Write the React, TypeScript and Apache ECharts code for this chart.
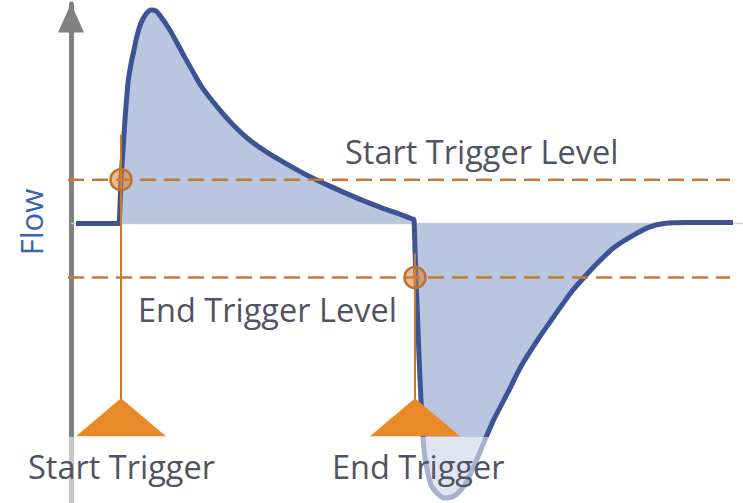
import React, { useEffect, useRef } from "react";
import * as echarts from "echarts";

// time (s) and flow values of the waveform
const flowTime = [0.05, 0.47, 0.48, 0.49, 0.5, 0.52, 0.54, 0.57, 0.6, 0.63, 0.66, 0.7, 0.75, 0.8, 0.85, 0.9, 0.97, 1.05, 1.13, 1.22, 1.3, 1.47, 1.62, 1.77, 1.95, 2.15, 2.35, 2.6, 2.85, 3.1, 3.3, 3.42, 3.43, 3.44, 3.45, 3.47, 3.49, 3.51, 3.53, 3.56, 3.6, 3.65, 3.73, 3.83, 3.93, 4.03, 4.13, 4.23, 4.37, 4.5, 4.67, 4.83, 5.0, 5.13, 5.27, 5.43, 5.6, 5.77, 5.93, 6.17, 6.5, 6.62];
const flowValue = [0, 0, 0, 9.5, 22, 37, 52, 70.5, 80, 87, 94, 100.5, 105, 107, 106.5, 103.5, 98.5, 91.5, 84, 76, 69, 58, 49.5, 42.5, 36, 30, 24.5, 18.5, 13, 8, 4.5, 2.2, 2, -13, -27, -53, -78, -98, -113.5, -123, -131, -134.5, -137.5, -136.5, -131.5, -121.5, -109.5, -98, -84.5, -71.5, -58, -46.5, -34.5, -27, -19.5, -12, -6.5, -2, 0, 0.5, 0.5, 0.5];

const startTriggerLevel = 22;
const endTriggerLevel = -27;
const startTriggerTime = 0.5;
const endTriggerTime = 3.44;
const levelLineSpan = [-0.03, 6.59];
const baselineSpan = [0, 6.72];
const triggerLineTop = [44.5, -15];
const triggerLineBottom = -88;
const markerLevel = -97;

const labels = {
  startLevel: "Start Trigger Level",
  endLevel: "End Trigger Level",
  startTrigger: "Start Trigger",
  endTrigger: "End Trigger",
  yName: "Flow",
};

const ORANGE = "#C8782F";
const TRI = "#E8892A";
const TXT = "#51535F";

export default function App() {
  const ref = useRef<HTMLDivElement>(null);
  useEffect(() => {
    if (!ref.current) return;
    const chart = echarts.init(ref.current, undefined, { renderer: "svg" });
    const curve = flowTime.map((t, i) => [t, flowValue[i]]);
    const font = "'Open Sans', sans-serif";
    chart.setOption({
      animation: false,
      grid: { left: 0, width: 743, top: 4, height: 500 },
      xAxis: {
        type: "value",
        min: -0.71,
        max: 6.72,
        axisLine: { show: false },
        axisTick: { show: false },
        axisLabel: { show: false },
        splitLine: { show: false },
      },
      yAxis: {
        type: "value",
        min: -140,
        max: 110,
        axisLine: {
          show: true,
          onZero: true,
          symbol: ["none", "triangle"],
          symbolSize: [26, 29],
          symbolOffset: [0, -14],
          lineStyle: { color: "#808080", width: 5 },
        },
        axisTick: { show: false },
        axisLabel: { show: false },
        splitLine: { show: false },
      },
      series: [
        {
          type: "line",
          data: baselineSpan.map((t) => [t, 0]),
          symbol: "none",
          lineStyle: { color: "#cfcfcf", width: 1.5 },
          z: 1,
        },
        {
          type: "line",
          data: curve,
          symbol: "none",
          smooth: 0.25,
          lineStyle: { color: "#3D5494", width: 5, join: "round" },
          areaStyle: { color: "#BAC5E0", opacity: 1 },
          z: 2,
        },
        {
          type: "line",
          data: levelLineSpan.map((t) => [t, startTriggerLevel]),
          symbol: "none",
          lineStyle: { color: ORANGE, width: 2.5, type: [16, 8] },
          z: 3,
        },
        {
          type: "line",
          data: levelLineSpan.map((t) => [t, endTriggerLevel]),
          symbol: "none",
          lineStyle: { color: ORANGE, width: 2.5, type: [16, 8] },
          z: 3,
        },
        {
          type: "line",
          data: [
            [startTriggerTime, triggerLineTop[0]],
            [startTriggerTime, triggerLineBottom],
          ],
          symbol: "none",
          lineStyle: { color: ORANGE, width: 2 },
          z: 4,
        },
        {
          type: "line",
          data: [
            [endTriggerTime, triggerLineTop[1]],
            [endTriggerTime, triggerLineBottom],
          ],
          symbol: "none",
          lineStyle: { color: ORANGE, width: 2 },
          z: 4,
        },
        {
          type: "scatter",
          data: [
            [startTriggerTime, startTriggerLevel],
            [endTriggerTime, endTriggerLevel],
          ],
          symbol: "circle",
          symbolSize: 21,
          itemStyle: { color: "rgba(214,130,50,0.55)", borderColor: "#C0702A", borderWidth: 2.5, opacity: 1 },
          z: 5,
        },
        {
          type: "scatter",
          data: [
            [startTriggerTime, markerLevel],
            [endTriggerTime, markerLevel],
          ],
          symbol: "triangle",
          symbolSize: [90, 38],
          itemStyle: { color: TRI, opacity: 1 },
          z: 6,
        },
      ],
      graphic: [
        {
          type: "rect",
          shape: { x: 0, y: 437, width: 743, height: 70 },
          style: { fill: "rgba(255,255,255,0.55)" },
          z: 100,
        },
        {
          type: "text",
          x: 345,
          y: 151,
          style: { text: labels.startLevel, fill: TXT, font: `32.5px ${font}`, verticalAlign: "middle", align: "left" },
          z: 101,
        },
        {
          type: "text",
          x: 138,
          y: 309,
          style: { text: labels.endLevel, fill: TXT, font: `32.5px ${font}`, verticalAlign: "middle", align: "left" },
          z: 101,
        },
        {
          type: "text",
          x: 28,
          y: 466,
          style: { text: labels.startTrigger, fill: TXT, font: `32.5px ${font}`, verticalAlign: "middle", align: "left" },
          z: 101,
        },
        {
          type: "text",
          x: 332,
          y: 466,
          style: { text: labels.endTrigger, fill: TXT, font: `32.5px ${font}`, verticalAlign: "middle", align: "left" },
          z: 101,
        },
        {
          type: "text",
          x: 31,
          y: 222,
          rotation: Math.PI / 2,
          style: { text: labels.yName, fill: "#3B62AE", font: `31px ${font}`, verticalAlign: "middle", align: "center" },
          z: 101,
        },
      ],
    });
    return () => chart.dispose();
  }, []);
  return <div ref={ref} style={{ width: 743, height: 503, position: "absolute", left: 0, top: 0 }} />;
}
